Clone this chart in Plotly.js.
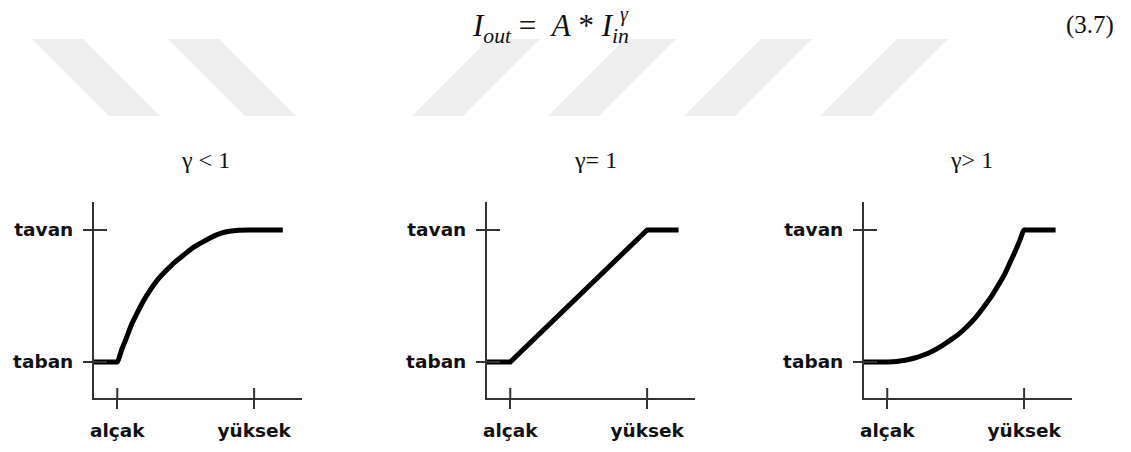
<!DOCTYPE html>
<html><head><meta charset="utf-8">
<script src="https://cdn.plot.ly/plotly-3.0.1.min.js"></script>
<style>html,body{margin:0;padding:0;background:#fff}#chart{width:1131px;height:452px}</style>
</head><body><div id="chart"></div>
<script>
const W = 1131, H = 452;

// ---- data ----
const xTickVals = [0, 1];
const xTickText = ['alçak', 'yüksek'];
const yTickVals = [0, 1];
const yTickText = ['taban', 'tavan'];
const panelTitles = ['γ < 1', 'γ= 1', 'γ> 1'];

const gammaLowX  = [-0.17, -0.01, 0, 0.035, 0.07, 0.105, 0.145, 0.19, 0.24, 0.30, 0.365, 0.425, 0.485, 0.545, 0.61, 0.67, 0.73, 0.79, 0.85, 0.97, 1.21];
const gammaLowY  = [0, 0, 0, 0.10, 0.19, 0.285, 0.37, 0.46, 0.545, 0.63, 0.70, 0.76, 0.81, 0.86, 0.90, 0.935, 0.965, 0.985, 0.995, 1.0, 1.0];
const gammaOneX  = [-0.18, 0, 1, 1.23];
const gammaOneY  = [0, 0, 1, 1];
const gammaHighX = [-0.18, 0, 0.07, 0.14, 0.2, 0.265, 0.33, 0.39, 0.45, 0.515, 0.58, 0.64, 0.70, 0.76, 0.81, 0.86, 0.90, 0.94, 0.97, 1.0, 1.01, 1.23];
const gammaHighY = [0, 0, 0.004, 0.015, 0.03, 0.053, 0.082, 0.116, 0.158, 0.205, 0.265, 0.33, 0.41, 0.495, 0.58, 0.67, 0.76, 0.85, 0.925, 1.0, 1.0, 1.0];

// ---- layout helpers (pixel positions of panels / decoration) ----
const xRange = [-0.17, 1.35];
const yRange = [-0.273, 1.212];
const panelLeftPx = [94, 487, 864];
const panelWidthPx = 208;
const panelTopPx = 202, panelBottomPx = 398;
const titleCenterPx = [205, 595, 971];
const backStripeTopPx = [32, 168];
const fwdStripeBottomPx = [412, 548, 684, 820];
const stripeTop = 39, stripeBottom = 116, stripeW = 51, stripeShift = 77;

const px = v => v / W;
const py = v => 1 - v / H;

const series = [[gammaLowX, gammaLowY, 'spline'], [gammaOneX, gammaOneY, 'linear'], [gammaHighX, gammaHighY, 'spline']];
const traces = series.map((s, i) => ({
  type: 'scatter', mode: 'lines',
  x: s[0], y: s[1],
  xaxis: i === 0 ? 'x' : 'x' + (i + 1),
  yaxis: i === 0 ? 'y' : 'y' + (i + 1),
  line: {color: '#000', width: 5, shape: s[2], smoothing: 1},
  hoverinfo: 'skip'
}));

const tickFont = {family: 'DejaVu Sans', size: 18.5, weight: 'bold', color: '#111'};
const axisCommon = {
  showline: true, linecolor: '#333', linewidth: 2,
  ticks: 'outside', ticklen: 9, tickwidth: 2, tickcolor: '#333',
  showgrid: false, zeroline: false, fixedrange: true,
  tickfont: tickFont
};

const layout = {
  width: W, height: H,
  margin: {l: 0, r: 0, t: 0, b: 0},
  paper_bgcolor: '#fff', plot_bgcolor: 'rgba(0,0,0,0)',
  showlegend: false,
  shapes: [], annotations: []
};

for (let i = 0; i < 3; i++) {
  const sfx = i === 0 ? '' : String(i + 1);
  layout['xaxis' + sfx] = Object.assign({}, axisCommon, {
    domain: [px(panelLeftPx[i]), px(panelLeftPx[i] + panelWidthPx)],
    range: xRange, anchor: 'y' + sfx,
    tickvals: xTickVals, ticktext: xTickText, ticklabelstandoff: 6
  });
  layout['yaxis' + sfx] = Object.assign({}, axisCommon, {
    domain: [py(panelBottomPx), py(panelTopPx)],
    range: yRange, anchor: 'x' + sfx,
    tickvals: yTickVals, ticktext: yTickText, ticklabelstandoff: 6
  });
  xTickVals.forEach(v => layout.shapes.push({
    type: 'line', xref: 'x' + sfx, yref: 'y' + sfx,
    x0: v, x1: v, ysizemode: 'pixel', yanchor: yRange[0], y0: 0, y1: 10,
    line: {color: '#333', width: 2}
  }));
  yTickVals.forEach(v => layout.shapes.push({
    type: 'line', xref: 'x' + sfx, yref: 'y' + sfx,
    y0: v, y1: v, xsizemode: 'pixel', xanchor: xRange[0], x0: 0, x1: 13,
    line: {color: '#333', width: 2}
  }));
  layout.annotations.push({
    xref: 'paper', yref: 'paper', x: px(titleCenterPx[i]), y: py(160),
    xanchor: 'center', yanchor: 'middle', showarrow: false,
    text: panelTitles[i],
    font: {family: 'Liberation Serif', size: 24, color: '#111'}
  });
}

backStripeTopPx.forEach(x => layout.shapes.push({
  type: 'path', xref: 'paper', yref: 'paper', layer: 'below',
  path: `M ${px(x)} ${py(stripeTop)} L ${px(x + stripeW)} ${py(stripeTop)} L ${px(x + stripeW + stripeShift)} ${py(stripeBottom)} L ${px(x + stripeShift)} ${py(stripeBottom)} Z`,
  fillcolor: '#eeeeee', line: {width: 0}
}));
fwdStripeBottomPx.forEach(x => layout.shapes.push({
  type: 'path', xref: 'paper', yref: 'paper', layer: 'below',
  path: `M ${px(x)} ${py(stripeBottom)} L ${px(x + stripeW)} ${py(stripeBottom)} L ${px(x + stripeW + stripeShift)} ${py(stripeTop)} L ${px(x + stripeShift)} ${py(stripeTop)} Z`,
  fillcolor: '#eeeeee', line: {width: 0}
}));

layout.annotations.push({
  xref: 'paper', yref: 'paper', x: px(550), y: py(28), xanchor: 'center', yanchor: 'middle',
  showarrow: false,
  text: '<i>I</i><sub><i>out</i></sub> =  <i>A</i> * <i>I</i><sub><i>in</i></sub>',
  font: {family: 'Liberation Serif', size: 31, color: '#111'}
});
layout.annotations.push({
  xref: 'paper', yref: 'paper', x: px(624), y: py(14), xanchor: 'center', yanchor: 'middle',
  showarrow: false, text: '<i>γ</i>',
  font: {family: 'Liberation Serif', size: 20, color: '#111'}
});
layout.annotations.push({
  xref: 'paper', yref: 'paper', x: px(1090), y: py(25), xanchor: 'center', yanchor: 'middle',
  showarrow: false, text: '(3.7)',
  font: {family: 'Liberation Serif', size: 25, color: '#111'}
});

Plotly.newPlot('chart', traces, layout, {displayModeBar: false, staticPlot: true});
</script>
</body></html>
